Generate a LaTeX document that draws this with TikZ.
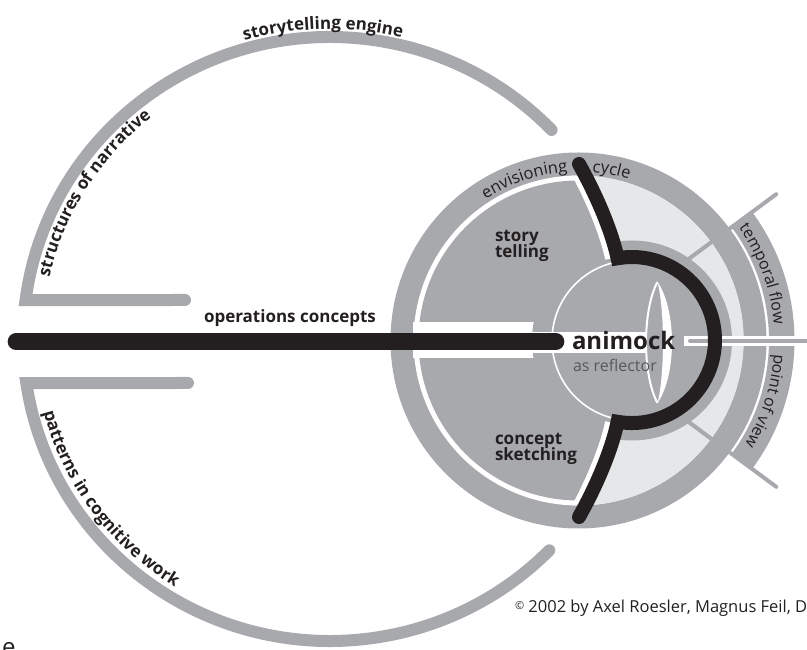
\documentclass[tikz,border=0pt]{standalone}
\usepackage{fontspec}
\setmainfont{Open Sans}
\usetikzlibrary{decorations.text}
\definecolor{gA}{HTML}{A7A9AC}
\definecolor{gL}{HTML}{E6E7E8}
\definecolor{ink}{HTML}{231F20}
\definecolor{gT}{HTML}{58595B}
\newcommand\fsz[1]{\fontsize{#1}{#1}\selectfont}
\newcommand\lblB{\fsz{17}\bfseries}
\newcommand\lblR{\fsz{16.5}}
\newcommand\lblS{\fsz{16}}
\begin{document}
\begin{tikzpicture}[x=1pt,y=1pt,
  every node/.style={inner sep=0pt, outer sep=0pt},
  outerarc/.style={draw=gA, line width=12pt, line cap=round, line join=miter},
  ray/.style={draw=gA, line width=4pt, line cap=round},
  gapline/.style={draw=white, line width=13pt},
  blackline/.style={draw=ink, line width=14pt, line cap=round, line join=miter},
  arctext/.style={decorate, decoration={text along path, text align=center, text color=ink, text={#1}}},
  secttext/.style={anchor=base west, font=\fsz{17}\bfseries, text=ink}]
\useasboundingbox (0,0) rectangle (807,650);
\coordinate (C) at (578.5,309.5);   % centre of the envisioning disk
\coordinate (L) at (632,309.5);     % centre of the reflector
\coordinate (E) at (330,311);       % centre of the outer arcs

% ---- outer arcs -------------------------------------------------
\draw[outerarc] (185,350) -- ([shift={(172.6:307 and 302)}]E)
  arc[start angle=172.6, end angle=43.8, x radius=307, y radius=302];
\draw[outerarc] (188,267) -- ([shift={(188.4:307 and 302)}]E)
  arc[start angle=188.4, end angle=315.6, x radius=307, y radius=302];

\path[arctext={|\lblB|storytelling engine}] ([shift={(122:315 and 310)}]E)
  arc[start angle=122, end angle=60.6, x radius=315, y radius=310];
\path[arctext={|\lblB|structures of narrative}] ([shift={(175.8:287.5 and 282.5)}]E)
  arc[start angle=175.8, end angle=120, x radius=287.5, y radius=282.5];
\path[arctext={|\lblB|patterns in cognitive work}] ([shift={(190:296 and 291)}]E)
  arc[start angle=190, end angle=243, x radius=296, y radius=291];

% ---- envisioning disk ------------------------------------------
\fill[gA] (C) circle[radius=188];
\fill[white] (C) circle[radius=165];
\fill[gA] (C) circle[radius=160];
\fill[white] (413,292) rectangle (545,328);
\begin{scope}
  \clip (C) circle[radius=165];
  \fill[gL] (579,486) .. controls (597,454) and (612,418) .. (617.6,391.7)
    arc[start angle=100, end angle=-100, radius=83]
    .. controls (612,201) and (597,165) .. (579,133)
    -- (579,0) -- (807,0) -- (807,650) -- (579,650) -- cycle;
\end{scope}

% band for temporal flow / point of view
\fill[gA] ([shift={(36.5:216)}]C) arc[start angle=36.5, end angle=-36.5, radius=216]
  -- ([shift={(-36.5:190.5)}]C) arc[start angle=-36.5, end angle=36.5, radius=190.5] -- cycle;

% rays
\draw[ray] ([shift={(36.5:100)}]C) -- ([shift={(36.5:246)}]C);
\draw[ray] ([shift={(-36.5:100)}]C) -- ([shift={(-36.5:246)}]C);

% reflector body
\fill[gA] (L) circle[radius=100];

\begin{scope}
  \clip (C) circle[radius=165];
  \draw[gapline] (573,486) .. controls (591,454) and (606,418) .. (611.6,391.7);
  \draw[gapline] (573,133) .. controls (591,165) and (606,201) .. (611.6,227.3);
\end{scope}

% channels
\fill[white] (530,297) rectangle (646,318);
\fill[white] (684,303.5) rectangle (807,313.5);

\draw[white, line width=1.6pt] (L) circle[radius=80];

% lens
\draw[white, line width=2pt] (657.5,368) .. controls (642.2,340) and (642.2,275) .. (657.5,247);
\fill[white] (657.5,368) .. controls (676.8,340) and (676.8,275) .. (657.5,247)
  .. controls (664.8,275) and (664.8,340) .. (657.5,368) -- cycle;

\draw[ray] (690,309) -- (807,309);

% envisioning cycle line
\draw[blackline] (579,486) .. controls (597,454) and (612,418) .. (617.6,391.7)
  arc[start angle=100, end angle=-100, radius=83]
  .. controls (612,201) and (597,165) .. (579,133);

% operations bar
\draw[ink, line width=16.7pt, line cap=round] (16,308.3) -- (556,308.3);

% ---- labels ------------------------------------------------------
\path[arctext={|\lblR|envisioning}] ([shift={(140:169)}]C)
  arc[start angle=140, end angle=77, radius=169];
\path[arctext={|\lblR|cycle}] ([shift={(110:169)}]C)
  arc[start angle=110, end angle=48, radius=169];
\path[arctext={|\lblS|temporal flow}] ([shift={(50:196)}]C)
  arc[start angle=50, end angle=-10.3, radius=196];
\path[arctext={|\lblS|point of view}] ([shift={(12:196)}]C)
  arc[start angle=12, end angle=-48, radius=196];

\node[secttext] (ops) at (204,327.5) {operations concepts};
\node[secttext] (st1) at (495,408) {story};
\node[secttext] (st2) at (495,392.5) {telling};
\node[secttext] (cs1) at (495,205) {concept};
\node[secttext] (cs2) at (495,189.5) {sketching};
\node[anchor=base west, font=\fsz{24}\bfseries, text=ink] (anim) at (572,300) {animock};
\node[anchor=base west, font=\fsz{16}, text=gT] (refl) at (573,278.3) {as reflector};
\node[anchor=base west, font=\fsz{16.5}, text=ink] (copy) at (515,37) {{\fsz{11}\raisebox{3pt}{©}} 2002 by Axel Roesler, Magnus Feil, D};
\node[anchor=base west, font=\fsz{24}, text=ink] (cut) at (2,-6) {e};
\end{tikzpicture}
\end{document}
